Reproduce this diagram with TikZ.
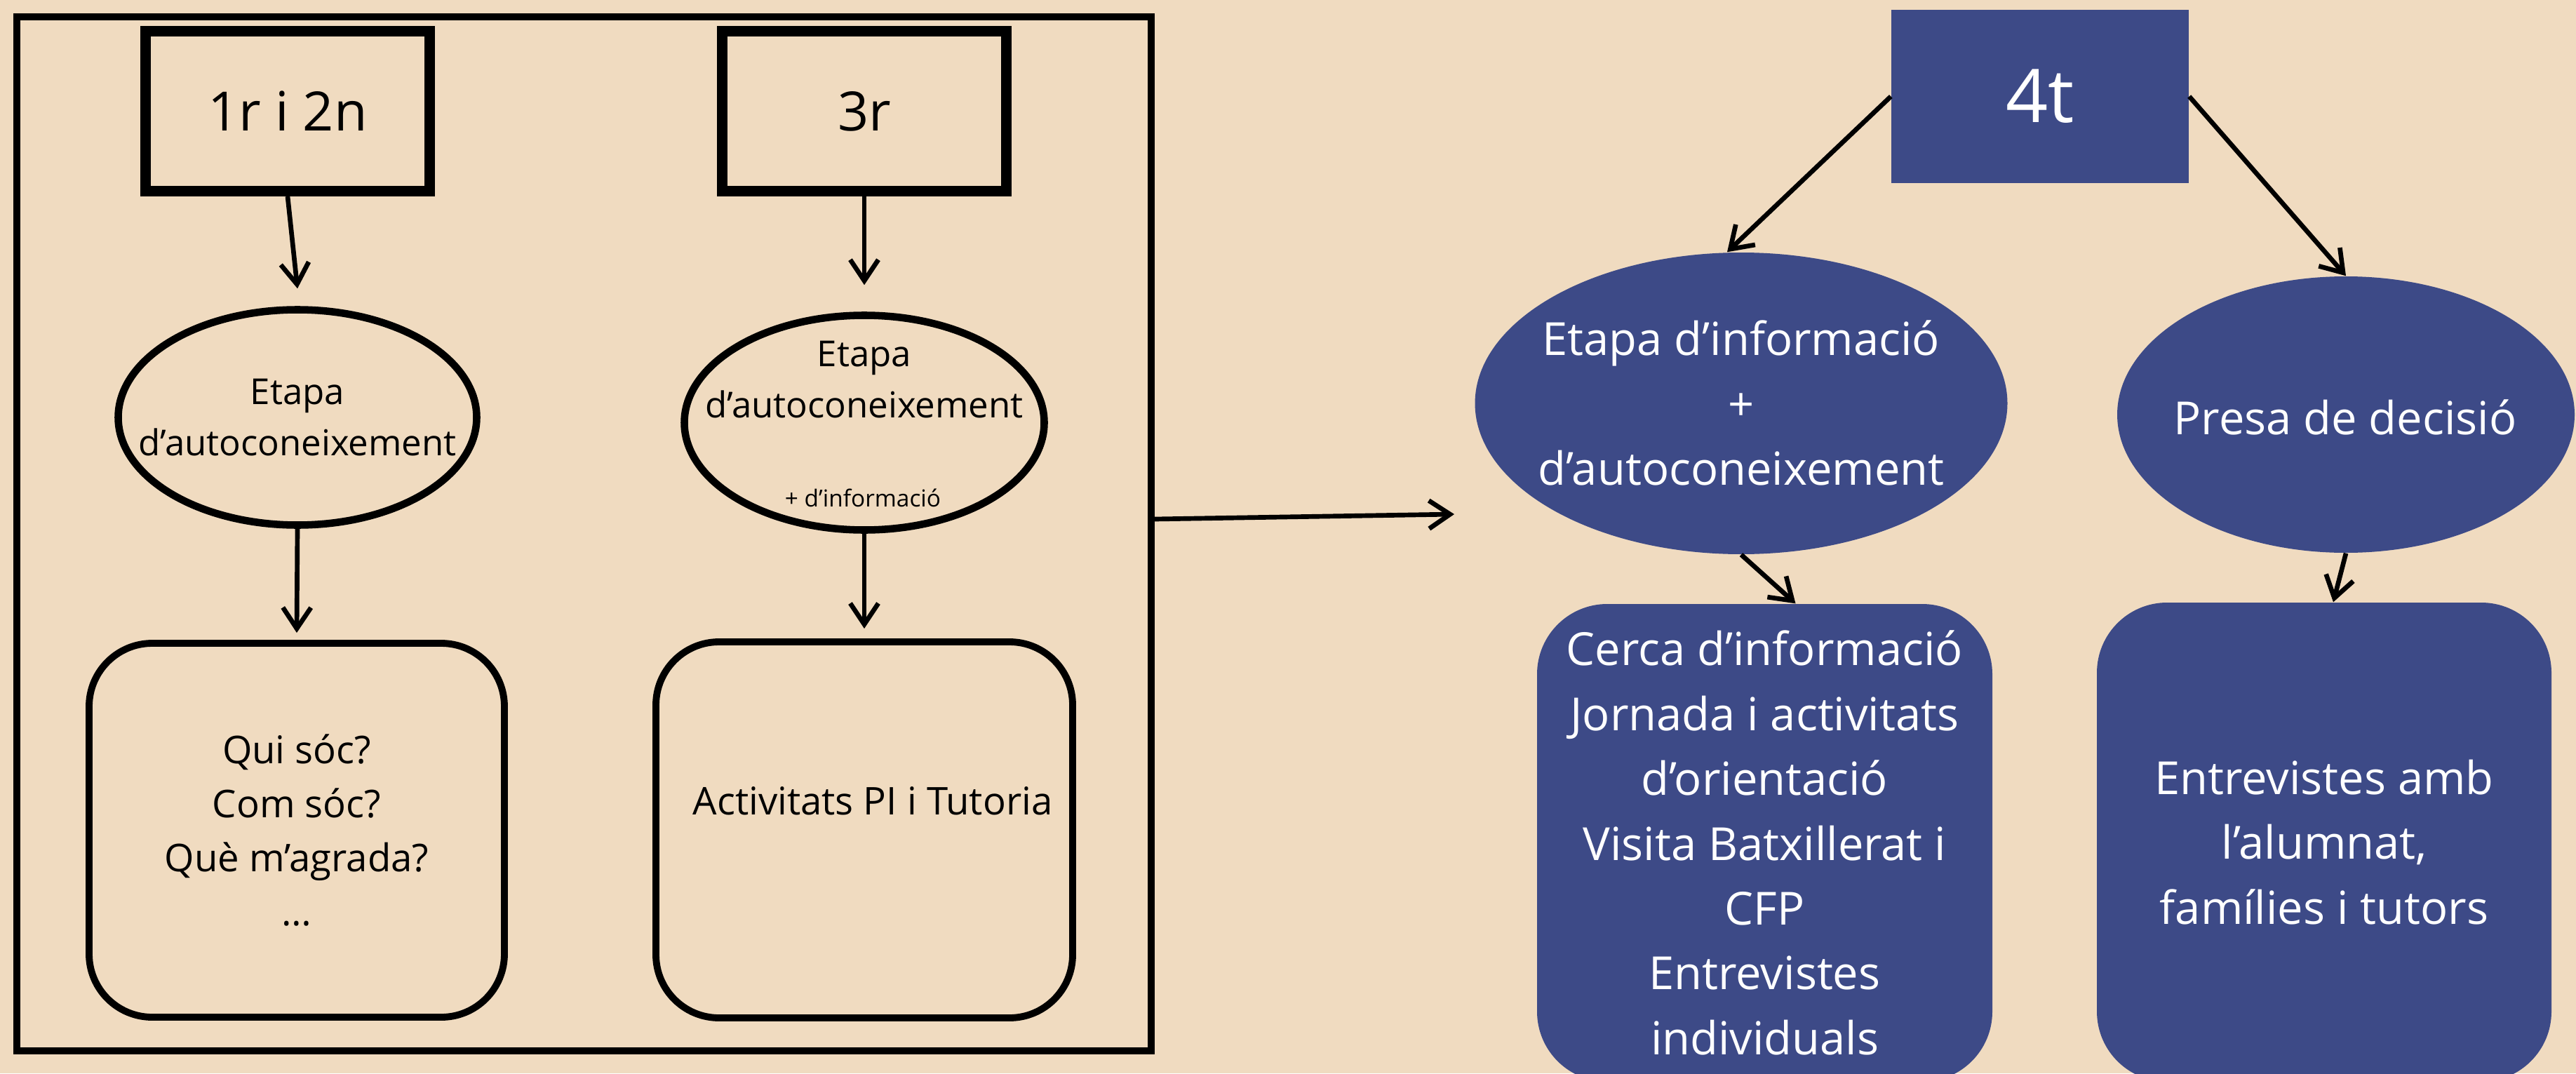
\documentclass[tikz,border=0pt]{standalone}
\usepackage{fontspec}
\setmainfont{Open Sans}
\usetikzlibrary{shapes.geometric,arrows.meta}
\definecolor{fusta}{RGB}{240,219,192}
\definecolor{blau}{RGB}{61,74,135}
\begin{document}
\begin{tikzpicture}[
  fletxa/.style={-{Straight Barb[length=3mm,width=4mm]},line width=1.9pt},
  caixa/.style={draw,line width=4.3pt,minimum width=4.05cm,minimum height=2.28cm,font=\fontsize{22}{26}\selectfont},
  etapa/.style={draw,ellipse,line width=3pt,inner sep=0pt},
  activitat/.style={draw,line width=2.8pt,rounded corners=9mm,inner sep=0pt,align=center,font=\fontsize{15.5}{21.9}\selectfont},
  blava/.style={fill=blau,inner sep=0pt,text=white,align=center,font=\fontsize{18.5}{26.3}\selectfont},
  petit/.style={align=center,inner sep=0pt,font=\fontsize{14.5}{20.7}\selectfont},
]
  \useasboundingbox (0,0) rectangle (36.72,-15.30);
  \fill[fusta] (0,0) rectangle (36.72,-15.30);
  \node[draw,line width=2.85pt,minimum width=16.17cm,minimum height=14.74cm] (marc) at (8.325,-7.61) {};
  \node[caixa] (c12) at (4.10,-1.585) {1r i 2n};
  \node[caixa] (c3) at (12.32,-1.585) {3r};
  \node[etapa,minimum width=5.11cm,minimum height=3.07cm] (et1) at (4.24,-5.95) {};
  \node[petit] (t-et1) at (et1.center) {Etapa\\d’autoconeixement};
  \node[etapa,minimum width=5.13cm,minimum height=3.06cm] (et3) at (12.32,-6.025) {};
  \node[petit] (t-et3) at (12.32,-5.41) {Etapa\\d’autoconeixement};
  \node[petit,font=\fontsize{9.5}{12}\selectfont] (inf3) at (12.30,-7.10) {+ d’informació};
  \node[activitat,minimum width=5.92cm,minimum height=5.33cm] (act1) at (4.23,-11.835) {Qui sóc?\\Com sóc?\\Què m’agrada?\\…};
  \node[activitat,minimum width=5.94cm,minimum height=5.36cm] (act3) at (12.32,-11.83) {};
  \node[petit,font=\fontsize{15.5}{21.9}\selectfont] (t-act3) at (12.44,-11.42) {Activitats PI i Tutoria};
  \node[blava,minimum width=4.24cm,minimum height=2.47cm,font=\fontsize{30}{36}\selectfont] (quart) at (29.08,-1.375) {4t};
  \node[blava,ellipse,minimum width=7.59cm,minimum height=4.30cm] (info) at (24.82,-5.75) {};
  \node[petit,text=white,font=\fontsize{18.5}{26.3}\selectfont] (t-info) at (24.82,-5.745) {Etapa d’informació\\+\\d’autoconeixement};
  \node[blava,ellipse,minimum width=6.52cm,minimum height=3.94cm] (decisio) at (33.44,-5.91) {};
  \node[petit,text=white,font=\fontsize{18.5}{26.3}\selectfont] (t-dec) at (33.43,-5.945) {Presa de decisió};
  \node[blava,rounded corners=10mm,minimum width=6.49cm,minimum height=6.81cm] (cerca) at (25.155,-12.015)
    {Cerca d’informació\\Jornada i activitats\\d’orientació\\Visita Batxillerat i\\CFP\\Entrevistes\\individuals};
  \node[blava,rounded corners=10mm,minimum width=6.48cm,minimum height=6.83cm] (entrev) at (33.13,-12.005)
    {Entrevistes amb\\l’alumnat,\\famílies i tutors};
  \coordinate (fi) at (20.73,-7.33);
  \draw[fletxa] (c12.south) -- ([yshift=2.5mm]et1.north);
  \draw[fletxa] (c3.south) -- ([yshift=3.8mm]et3.north);
  \draw[fletxa] (et1.south) -- ([yshift=1mm]act1.north);
  \draw[fletxa] (et3.south) -- ([yshift=1.4mm]act3.north);
  \draw[fletxa] ([yshift=2.1mm]marc.east) -- (fi);
  \draw[fletxa] (quart.west) -- ([xshift=-2mm]info.north);
  \draw[fletxa] (quart.east) -- (decisio.north);
  \draw[fletxa] (info.south) -- ([xshift=4.4mm]cerca.north);
  \draw[fletxa] (decisio.south) -- ([xshift=1.3mm]entrev.north);
\end{tikzpicture}
\end{document}
